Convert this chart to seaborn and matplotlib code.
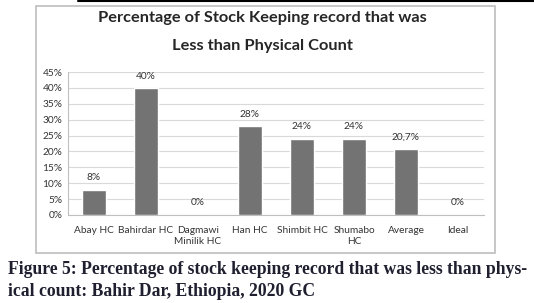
import matplotlib.pyplot as plt
import seaborn as sns
import pandas as pd
from matplotlib.patches import Rectangle
from matplotlib.lines import Line2D

sites = ['Abay HC', 'Bahirdar HC', 'Dagmawi\nMinilik HC', 'Han HC',
         'Shimbit HC', 'Shumabo\nHC', 'Average', 'Ideal']
pct = [8, 40, 0, 28, 24, 24, 20.7, 0]
labels = ['8%', '40%', '0%', '28%', '24%', '24%', '20,7%', '0%']
yticks = [0, 5, 10, 15, 20, 25, 30, 35, 40, 45]

df = pd.DataFrame({'site': sites, 'pct': pct})

sns.set_style('white')
plt.rcParams['font.family'] = ['Lato', 'DejaVu Sans']

W, H = 534, 303
fig = plt.figure(figsize=(W / 100, H / 100), dpi=100)

# chart frame and the top rule of the page
fig.add_artist(Rectangle((36 / W, 1 - 253 / H), 459 / W, 247 / H,
                         transform=fig.transFigure, facecolor='white',
                         edgecolor='#bdbdbd', lw=1.2, zorder=-5))
fig.add_artist(Line2D([78 / W, 1], [1 - 1 / H, 1 - 1 / H],
                      transform=fig.transFigure, color='black', lw=1.5))

ax = fig.add_axes([68 / W, 1 - 215 / H, 416 / W, 143 / H])
ax.set_zorder(2)
ax.patch.set_alpha(0)
sns.barplot(data=df, x='site', y='pct', color='#737373', width=0.48,
            saturation=1, ax=ax, zorder=3)

ax.set_ylim(0, 45)
ax.set_yticks(yticks)
ax.set_yticklabels([f'{t}%' for t in yticks], fontsize=7.3, color='#333333')
ax.tick_params(axis='x', labelsize=7.3, colors='#333333', length=0, pad=8)
ax.tick_params(axis='y', length=0, pad=4)
ax.set_xlabel('')
ax.set_ylabel('')
ax.yaxis.grid(True, color='#d9d9d9', lw=0.8, zorder=0)
ax.set_axisbelow(True)
for s in ['top', 'right']:
    ax.spines[s].set_visible(False)
ax.spines['left'].set_color('#bfbfbf')
ax.spines['bottom'].set_color('#bfbfbf')

for i, (v, lab) in enumerate(zip(pct, labels)):
    off = 2.3 if v > 0 else 2.5
    ax.text(i, v + off, lab, ha='center', va='bottom', fontsize=7.3,
            color='#333333')

fig.text(262 / W, 1 - 18 / H, 'Percentage of Stock Keeping record that was',
         ha='center', va='center', fontsize=11.8, fontweight='bold')
fig.text(262 / W, 1 - 46 / H, 'Less than Physical Count',
         ha='center', va='center', fontsize=11.8, fontweight='bold')

cap = ('Figure 5: Percentage of stock keeping record that was less than phys-\n'
       'ical count: Bahir Dar, Ethiopia, 2020 GC')
fig.text(8 / W, 1 - 261 / H, cap, ha='left', va='top', fontsize=12.7,
         fontweight='bold', family='Liberation Serif', color='#1f1f30',
         linespacing=1.35)

fig.savefig('out.png', dpi=100)
